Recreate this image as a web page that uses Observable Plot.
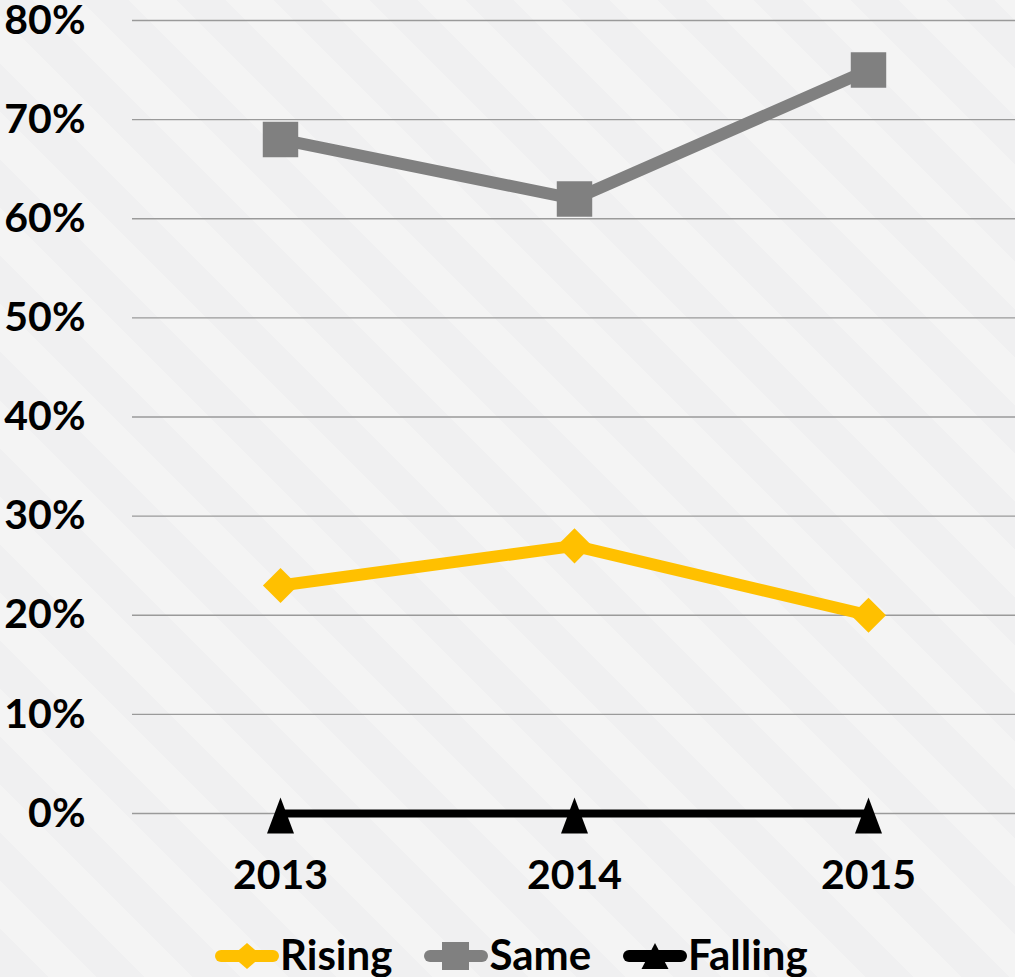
<!DOCTYPE html>
<html>
<head>
<meta charset="utf-8">
<script src="https://cdn.jsdelivr.net/npm/d3@7"></script>
<script src="https://cdn.jsdelivr.net/npm/@observablehq/plot@0.6"></script>
<style>
  html, body { margin: 0; padding: 0; }
  body {
    width: 1015px; height: 977px; overflow: hidden;
    background: repeating-linear-gradient(45deg, #f0f0f1 0px, #f0f0f1 34px, #f4f4f4 34px, #f4f4f4 68px);
    font-family: Lato, "Open Sans", sans-serif;
    font-weight: bold; color: #000;
  }
  #legend {
    display: flex; align-items: center;
    position: absolute; left: 215px; top: 929px; height: 50px;
    font-size: 42px; line-height: 50px;
  }
  #legend .item { display: flex; align-items: center; margin-right: 32px; }
  #legend svg { display: block; margin-right: 1px; }
</style>
</head>
<body>
<div id="chart"></div>
<div id="legend"></div>
<script>
const years = ["2013", "2014", "2015"];
const seriesNames = ["Rising", "Same", "Falling"];
const rising = [23, 27, 20];
const same = [68, 62, 75];
const falling = [0, 0, 0];
const yTicks = [0, 10, 20, 30, 40, 50, 60, 70, 80];
const colors = ["#FFC000", "#808080", "#000000"];

const tallTriangle = {
  draw(context, size) {
    const k = Math.sqrt(size) / 17.72;
    context.moveTo(0, -16 * k);
    context.lineTo(13.5 * k, 20 * k);
    context.lineTo(-13.5 * k, 20 * k);
    context.closePath();
  }
};
const symbols = ["diamond2", "square", tallTriangle];
const symbolR = [15.8, 20, 10];
const lineWidths = [12, 12, 8];

const valuesBySeries = [rising, same, falling];
const seriesRows = valuesBySeries.map((vals, i) =>
  years.map((y, j) => ({ year: y, value: vals[j], series: seriesNames[i] }))
);

const fontFamily = 'Lato, "Open Sans", sans-serif';

const marks = [
  Plot.gridY(yTicks, { stroke: "#9a9a9a", strokeOpacity: 1, strokeWidth: 1.4 }),
  Plot.axisY({ ticks: yTicks, tickSize: 0, tickPadding: 47, tickFormat: d => d + "%", label: null,
    fontSize: 41, fontWeight: "bold", fill: "#000" }),
  Plot.axisX({ tickSize: 0, tickPadding: 46, label: null, fontSize: 41, fontWeight: "bold", fill: "#000" })
];
seriesRows.forEach((rows, i) => {
  marks.push(Plot.line(rows, { x: "year", y: "value", stroke: colors[i], strokeWidth: lineWidths[i] }));
  marks.push(Plot.dot(rows, { x: "year", y: "value", symbol: symbols[i], r: symbolR[i], fill: colors[i], stroke: "none" }));
});

const chart = Plot.plot({
  width: 1015,
  height: 920,
  marginLeft: 132,
  marginRight: 0,
  marginTop: 20,
  marginBottom: 107,
  style: { background: "transparent", fontFamily, fontWeight: "bold", color: "#000", overflow: "visible" },
  x: { type: "point", domain: years, padding: 0.5, label: null },
  y: { domain: [0, 80], label: null },
  marks
});
document.getElementById("chart").appendChild(chart);

// Legend
const legend = document.getElementById("legend");
seriesNames.forEach((name, i) => {
  const item = document.createElement("div");
  item.className = "item";
  const ns = "http://www.w3.org/2000/svg";
  const svg = document.createElementNS(ns, "svg");
  svg.setAttribute("width", 64); svg.setAttribute("height", 50);
  const line = document.createElementNS(ns, "line");
  line.setAttribute("x1", 6); line.setAttribute("x2", 58);
  line.setAttribute("y1", 27); line.setAttribute("y2", 27);
  line.setAttribute("stroke", colors[i]); line.setAttribute("stroke-width", 12);
  line.setAttribute("stroke-linecap", "round");
  svg.appendChild(line);
  const p = document.createElementNS(ns, "path");
  let d;
  if (i === 0) d = "M32,14L47,27L32,40L17,27Z";
  else if (i === 1) d = "M18,13H45V41H18Z";
  else d = "M32,14L45.5,40H18.5Z";
  p.setAttribute("d", d); p.setAttribute("fill", colors[i]);
  svg.appendChild(p);
  item.appendChild(svg);
  const span = document.createElement("span");
  span.textContent = name;
  item.appendChild(span);
  legend.appendChild(item);
});
</script>
</body>
</html>
